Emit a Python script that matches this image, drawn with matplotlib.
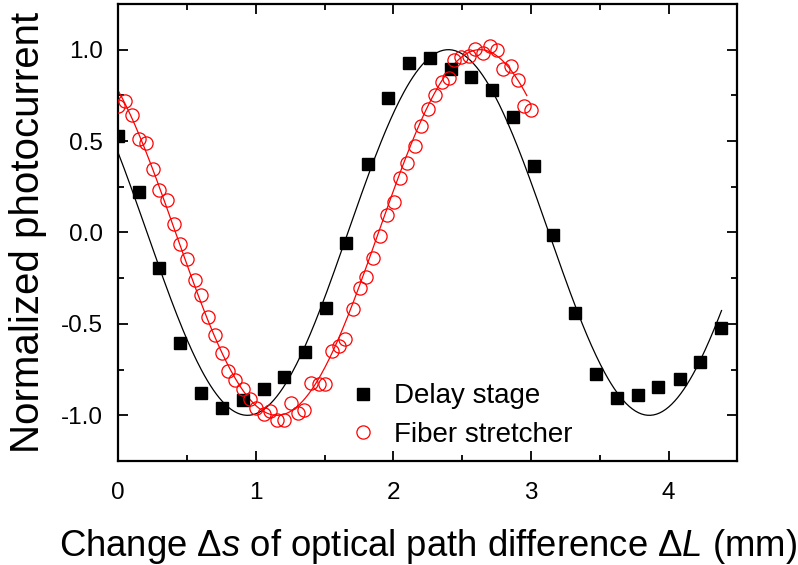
import numpy as np
import matplotlib.pyplot as plt

plt.rcParams['font.family'] = ['Liberation Sans', 'DejaVu Sans']
plt.rcParams['mathtext.fontset'] = 'custom'
plt.rcParams['mathtext.rm'] = 'Liberation Sans'
plt.rcParams['mathtext.it'] = 'Liberation Sans:italic'

# Delay stage measurement (mm, normalized photocurrent)
delay_x = [0.00, 0.155, 0.30, 0.45, 0.60, 0.754, 0.907, 1.057, 1.207, 1.36,
           1.51, 1.658, 1.813, 1.964, 2.116, 2.264, 2.42, 2.567, 2.72, 2.87,
           3.02, 3.16, 3.32, 3.474, 3.627, 3.775, 3.925, 4.08, 4.23, 4.38]
delay_y = [0.53, 0.22, -0.193, -0.605, -0.88, -0.96, -0.916, -0.858, -0.79, -0.654,
           -0.415, -0.06, 0.372, 0.738, 0.925, 0.953, 0.896, 0.852, 0.778, 0.632,
           0.362, -0.011, -0.443, -0.774, -0.907, -0.889, -0.847, -0.803, -0.71, -0.521]

# Fiber stretcher measurement
fiber_x = [0.00, 0.051, 0.10, 0.153, 0.204, 0.252, 0.30, 0.354, 0.407, 0.451,
           0.504, 0.557, 0.601, 0.65, 0.705, 0.754, 0.802, 0.851, 0.904, 0.955,
           0.999, 1.057, 1.105, 1.154, 1.202, 1.256, 1.304, 1.353, 1.401, 1.457,
           1.50, 1.553, 1.602, 1.651, 1.707, 1.755, 1.804, 1.852, 1.90, 1.954,
           2.002, 2.051, 2.099, 2.16, 2.20, 2.251, 2.30, 2.353, 2.402, 2.439,
           2.495, 2.55, 2.596, 2.652, 2.70, 2.753, 2.80, 2.855, 2.904, 2.948, 3.00]
fiber_y = [0.694, 0.721, 0.645, 0.512, 0.49, 0.35, 0.235, 0.177, 0.049, -0.062,
           -0.144, -0.26, -0.344, -0.461, -0.563, -0.657, -0.758, -0.807, -0.854, -0.909,
           -0.962, -0.995, -0.976, -1.027, -1.027, -0.934, -0.985, -0.973, -0.825, -0.831,
           -0.831, -0.648, -0.621, -0.585, -0.42, -0.302, -0.244, -0.139, -0.02, 0.093,
           0.168, 0.299, 0.381, 0.472, 0.581, 0.678, 0.754, 0.823, 0.845, 0.942,
           0.96, 0.967, 1.004, 0.982, 1.022, 1.0, 0.896, 0.913, 0.836, 0.694, 0.672]

# cosine fits: amplitude, period (mm), peak position (mm), fitted range
delay_fit = dict(amp=1.0, period=2.92, peak=2.40, x0=0.0, x1=4.385)
fiber_fit = dict(amp=1.0, period=2.95, peak=2.63, x0=0.0, x1=2.97)


def cos_fit(p):
    x = np.linspace(p['x0'], p['x1'], 400)
    return x, p['amp'] * np.cos(2 * np.pi * (x - p['peak']) / p['period'])


fig = plt.figure(figsize=(7.98, 5.65), dpi=100)
ax = fig.add_axes([0.148, 0.184, 0.776, 0.809])

fx, fy = cos_fit(delay_fit)
ax.plot(fx, fy, color='black', lw=0.9)
fx, fy = cos_fit(fiber_fit)
ax.plot(fx, fy, color='red', lw=0.9)

ax.plot(delay_x, delay_y, ls='none', marker='s', ms=8, color='black',
        label='Delay stage', zorder=3)
ax.plot(fiber_x, fiber_y, ls='none', marker='o', ms=9.5, mfc='none', mec='red',
        mew=0.9, label='Fiber stretcher', zorder=3)

ax.set_xlim(0, 4.5)
ax.set_ylim(-1.25, 1.25)
ax.set_xticks([0, 1, 2, 3, 4])
ax.set_xticks(np.arange(0.5, 4.5, 1.0), minor=True)
ax.set_yticks([-1.0, -0.5, 0.0, 0.5, 1.0])
ax.set_yticks([-1.25, -0.75, -0.25, 0.25, 0.75, 1.25], minor=True)
ax.set_yticklabels(['-1.0', '-0.5', '0.0', '0.5', '1.0'])

ax.tick_params(which='both', direction='in', top=True, right=True,
               labelsize=17.5, width=1.3)
ax.tick_params(which='major', length=7)
ax.tick_params(which='minor', length=4)
ax.tick_params(axis='x', pad=15)
ax.tick_params(axis='y', pad=11)
for s in ax.spines.values():
    s.set_linewidth(1.6)

ax.set_xlabel(r'Change $\Delta s$ of optical path difference $\Delta L$ (mm)',
              fontsize=26.3, labelpad=17)
ax.set_ylabel('Normalized photocurrent', fontsize=29, labelpad=10)

ax.legend(loc='upper left', bbox_to_anchor=(0.373, 0.17), frameon=False,
          fontsize=20, handlelength=1.0, handletextpad=0.6,
          labelspacing=0.45, borderpad=0, borderaxespad=0)

fig.savefig('out.png', dpi=100)
